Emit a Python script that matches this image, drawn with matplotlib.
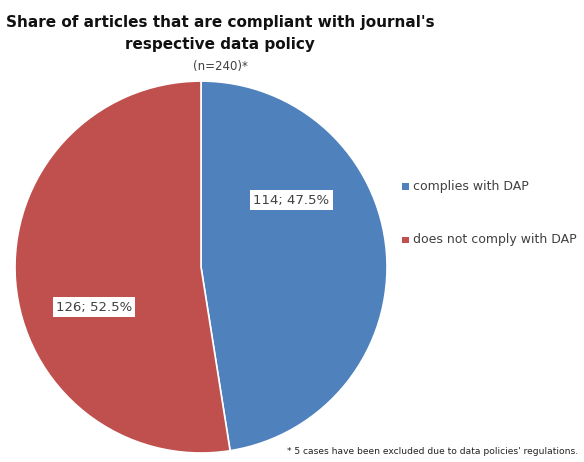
import matplotlib
matplotlib.use("Agg")
import matplotlib.pyplot as plt
from matplotlib.patches import Rectangle

# ---- Data -------------------------------------------------------------
categories = ["complies with DAP", "does not comply with DAP"]
counts = [114, 126]
shares = [47.5, 52.5]
n_total = 240

BLUE = "#4f81bd"
RED = "#c0504d"
TEXT = "#404040"

fig = plt.figure(figsize=(5.84, 4.62), dpi=100)
fig.patch.set_facecolor("white")

ax = fig.add_axes([0.0257, 0.0195, 0.637, 0.805])
wedges, _ = ax.pie(counts, colors=[BLUE, RED], startangle=90, counterclock=False,
                   radius=1.0, wedgeprops={"edgecolor": "white", "linewidth": 1.2})
ax.set_xlim(-1.0, 1.0)
ax.set_ylim(-1.0, 1.0)
ax.set_aspect("auto")

# data labels, Excel style boxes
label_pos = [(0.485, 0.36), (-0.575, -0.215)]
for (x, y), c, s in zip(label_pos, counts, shares):
    ax.text(x, y, f"{c}; {s:.1f}%", ha="center", va="center", fontsize=9.5, color=TEXT,
            bbox={"boxstyle": "square,pad=0.25", "facecolor": "white", "edgecolor": "none"})

# titles
fig.text(0.377, 0.952, "Share of articles that are compliant with journal's",
         ha="center", va="center", fontsize=11, fontweight="bold", color="#111111")
fig.text(0.377, 0.903, "respective data policy",
         ha="center", va="center", fontsize=11, fontweight="bold", color="#111111")
fig.text(0.378, 0.857, f"(n={n_total})*", ha="center", va="center", fontsize=8.5, color=TEXT)

# legend
legend_y = [0.597, 0.482]
for y, cat, col in zip(legend_y, categories, [BLUE, RED]):
    fig.patches.append(Rectangle((0.689, y - 0.008), 0.011, 0.014, transform=fig.transFigure,
                                 facecolor=col, edgecolor="none"))
    fig.text(0.708, y, cat, ha="left", va="center", fontsize=9, color=TEXT)

# footnote
fig.text(0.99, 0.022, "* 5 cases have been excluded due to data policies' regulations.",
         ha="right", va="center", fontsize=6.6, color="#222222")

fig.savefig("out.png", dpi=100)
